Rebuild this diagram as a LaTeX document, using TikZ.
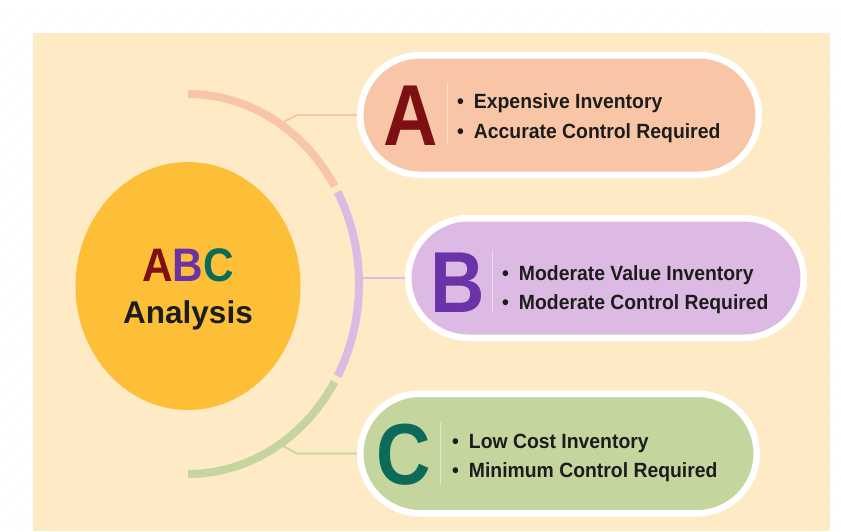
\documentclass[tikz,border=0pt]{standalone}
\usepackage{fontspec}
\usepackage{graphicx}
\usetikzlibrary{shapes.geometric}
\setmainfont{Liberation Sans}
\newfontfamily\bigletter{Liberation Sans}[FakeStretch=0.87]
\newfontfamily\itemfont{Liberation Sans}[FakeStretch=0.94]
\newfontfamily\titlefont{Liberation Sans}[FakeStretch=0.9]

\definecolor{paper}{HTML}{FFEAC6}
\definecolor{hub}{HTML}{FDBF38}
\definecolor{fillA}{HTML}{F8C6A6}
\definecolor{fillB}{HTML}{DDBAE4}
\definecolor{fillC}{HTML}{C5D59E}
\definecolor{ltrA}{HTML}{7D1012}
\definecolor{ltrB}{HTML}{6A33A8}
\definecolor{ltrC}{HTML}{0B6A58}
\definecolor{ink}{HTML}{1C1C1C}

\tikzset{
  pill/.style={draw=white, line width=6.5pt, rounded corners=59.75pt,
    minimum height=119.5pt, inner sep=0pt},
  ring/.style={line width=8pt, line cap=butt},
  link/.style={line width=1.8pt},
  sep/.style={line width=0.9pt},
  capital/.style={anchor=base, inner sep=0pt,
    font=\bigletter\bfseries\fontsize{86.6}{90}\selectfont},
  item/.style={anchor=base west, inner sep=0pt, text=ink,
    font=\itemfont\bfseries\fontsize{20.6}{24}\selectfont},
}

\begin{document}
\begin{tikzpicture}[x=1pt, y=-1pt]
\useasboundingbox (0,0) rectangle (841,531);

% faint hatching on the white margin
\begin{scope}[even odd rule]
  \clip (0,10) rectangle (841,531) (33,33) rectangle (830,531);
  \foreach \k in {0,22,...,1400} {
    \draw[gray!14, line width=0.35pt, densely dotted] (\k-560,560) -- (\k,0);
  }
  \foreach \k in {720,730,...,900} {
    \draw[gray!12, line width=0.35pt, densely dotted] (\k,0) -- (\k+60,60);
  }
\end{scope}

% backdrop
\fill[paper] (33,33) rectangle (830,531);

% central hub
\node[ellipse, fill=hub, minimum width=225pt, minimum height=248pt, inner sep=0pt]
  (hub) at (188,286) {};
\node[anchor=base, inner sep=0pt, font=\titlefont\bfseries\fontsize{47}{50}\selectfont]
  (abc) at (188,281) {{\color{ltrA}A}{\color{ltrB}B}{\color{ltrC}C}};
\node[anchor=base, inner sep=0pt, text=ink, font=\bfseries\fontsize{31.5}{34}\selectfont]
  (ana) at (188,323) {Analysis};

% segmented ring around the hub
\draw[ring, fillA] ([shift={(-90:171 and 190)}]188,284)
  arc[start angle=-90, end angle=-31, x radius=171, y radius=190];
\draw[ring, fillB] ([shift={(-29:171 and 190)}]188,284)
  arc[start angle=-29, end angle=29, x radius=171, y radius=190];
\draw[ring, fillC] ([shift={(31:171 and 190)}]188,284)
  arc[start angle=31, end angle=90, x radius=171, y radius=190];

% junctions on the ring and bends of the links
\coordinate (ja) at ([shift={(-57:174 and 193)}]188,284);
\coordinate (ka) at (297,115);
\coordinate (jb) at (362,278);
\coordinate (jc) at ([shift={(57:174 and 193)}]188,284);
\coordinate (kc) at (297,453.5);

% category pills
\node[pill, fill=fillA, minimum width=398.5pt] (pa) at (559.5,115) {};
\node[pill, fill=fillB, minimum width=395.5pt] (pb) at (606,278) {};
\node[pill, fill=fillC, minimum width=396.5pt] (pc) at (558.5,453.5) {};

% links from ring to pills
\draw[link, fillA] (ja) -- (ka) -- (pa.west);
\draw[link, fillB] (jb) -- (pb.west);
\draw[link, fillC] (jc) -- (kc) -- (pc.west);

% pill A
\node[capital, text=ltrA] (la) at (411,145) {A};
\draw[sep, white!45!fillA] (447,83) -- (447,145);
\node[item] (a1) at (457,108) {•\hspace{10pt}Expensive Inventory};
\node[item] (a2) at (457,138) {•\hspace{10pt}Accurate Control Required};

% pill B
\node[capital, text=ltrB] (lb) at (457.5,312) {B};
\draw[sep, white!45!fillB] (492,250) -- (492,312);
\node[item] (b1) at (502,280) {•\hspace{10pt}Moderate Value Inventory};
\node[item] (b2) at (502,309) {•\hspace{10pt}Moderate Control Required};

% pill C
\node[capital, text=ltrC] (lc) at (404,484) {C};
\draw[sep, white!45!fillC] (440,422) -- (440,484);
\node[item] (c1) at (452,448) {•\hspace{10pt}Low Cost Inventory};
\node[item] (c2) at (452,477) {•\hspace{10pt}Minimum Control Required};
\end{tikzpicture}
\end{document}
